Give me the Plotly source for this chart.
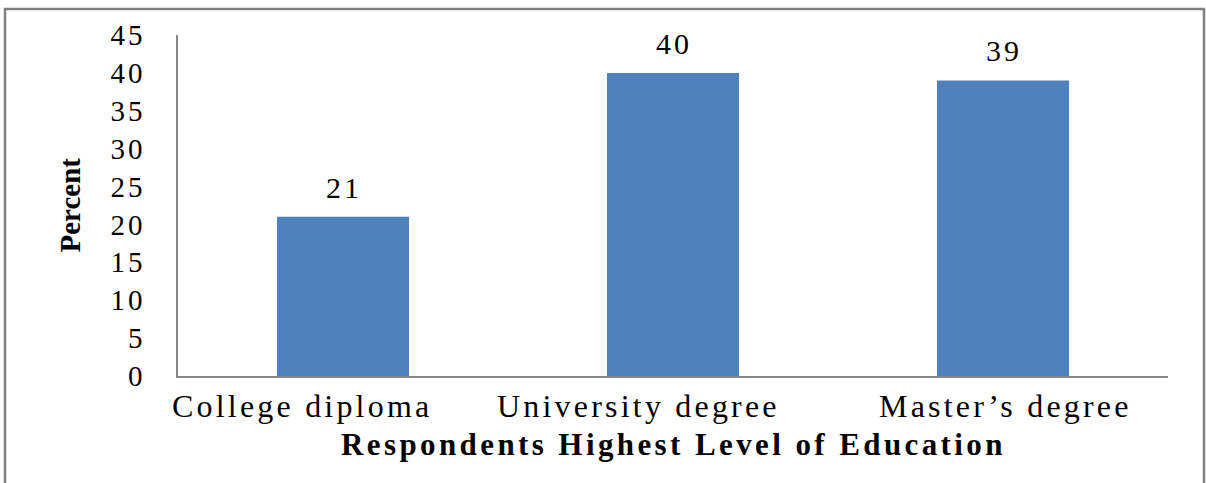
import plotly.graph_objects as go

categories = ["College diploma", "University degree", "Master\u2019s degree"]
percent = [21, 40, 39]
y_ticks = [0, 5, 10, 15, 20, 25, 30, 35, 40, 45]
x_title = "Respondents Highest Level of Education"
y_title = "Percent"

# style only
label_shift = [-43, -37, 0]
FONT = "Liberation Serif, Times New Roman, serif"
BAR = "#4F81BD"
AXIS = "#868686"

def ls(s, px):
    return f'<span style="letter-spacing:{px}px">{s}</span>'

W, H = 1206, 483
L, R, T, B = 178, 38, 35, 107
pw, ph = W - L - R, H - T - B

fig = go.Figure()
fig.add_trace(go.Bar(
    x=list(range(len(categories))), y=percent,
    marker=dict(color=BAR, line=dict(width=0)),
    width=0.4, hoverinfo="skip", showlegend=False,
))

ann = []
for i, (c, v) in enumerate(zip(categories, percent)):
    ann.append(dict(x=i, y=v, xref="x", yref="y", text=ls(str(v), 3),
                    showarrow=False, yanchor="bottom", xanchor="center",
                    yshift=11, xshift=1,
                    font=dict(family=FONT, size=30, color="black")))
    ann.append(dict(x=i, y=0, xref="x", yref="y", text=ls(c, 3.2),
                    showarrow=False, yanchor="middle", xanchor="center",
                    yshift=-30, xshift=label_shift[i] + 2,
                    font=dict(family=FONT, size=32, color="black")))
ann.append(dict(x=0.5, y=0, xref="paper", yref="paper", text=ls(f"<b>{x_title}</b>", 3.4),
                showarrow=False, yanchor="middle", xanchor="center", yshift=-68,
                font=dict(family=FONT, size=31, color="black")))
ann.append(dict(x=0, y=0.5, xref="paper", yref="paper", text=f"<b>{y_title}</b>",
                showarrow=False, textangle=-90, xanchor="center", yanchor="middle",
                xshift=-109, font=dict(family=FONT, size=29, color="black")))

fig.update_layout(
    width=W, height=H,
    margin=dict(l=L, r=R, t=T, b=B, pad=0),
    paper_bgcolor="white", plot_bgcolor="white",
    bargap=0.6,
    annotations=ann,
    xaxis=dict(range=[-0.5, len(categories) - 0.5], showticklabels=False,
               showgrid=False, zeroline=False, showline=True,
               linecolor=AXIS, linewidth=1.5, ticks="", fixedrange=True),
    yaxis=dict(range=[0, 45], tickvals=y_ticks,
               ticktext=[ls(str(t), 3) for t in y_ticks],
               showgrid=False, zeroline=False, showline=True,
               linecolor=AXIS, linewidth=1.5, ticks="",
               ticklabelstandoff=25,
               tickfont=dict(family=FONT, size=29, color="black"),
               fixedrange=True),
    shapes=[dict(type="rect", xref="paper", yref="paper",
                 x0=(5 - L) / pw, x1=(1204 - L) / pw,
                 y0=(H - B - 495) / ph, y1=(H - B - 9) / ph,
                 line=dict(color="#808080", width=2.5), fillcolor="rgba(0,0,0,0)",
                 layer="below")],
)

fig.write_html("out.html", config={"displayModeBar": False})
